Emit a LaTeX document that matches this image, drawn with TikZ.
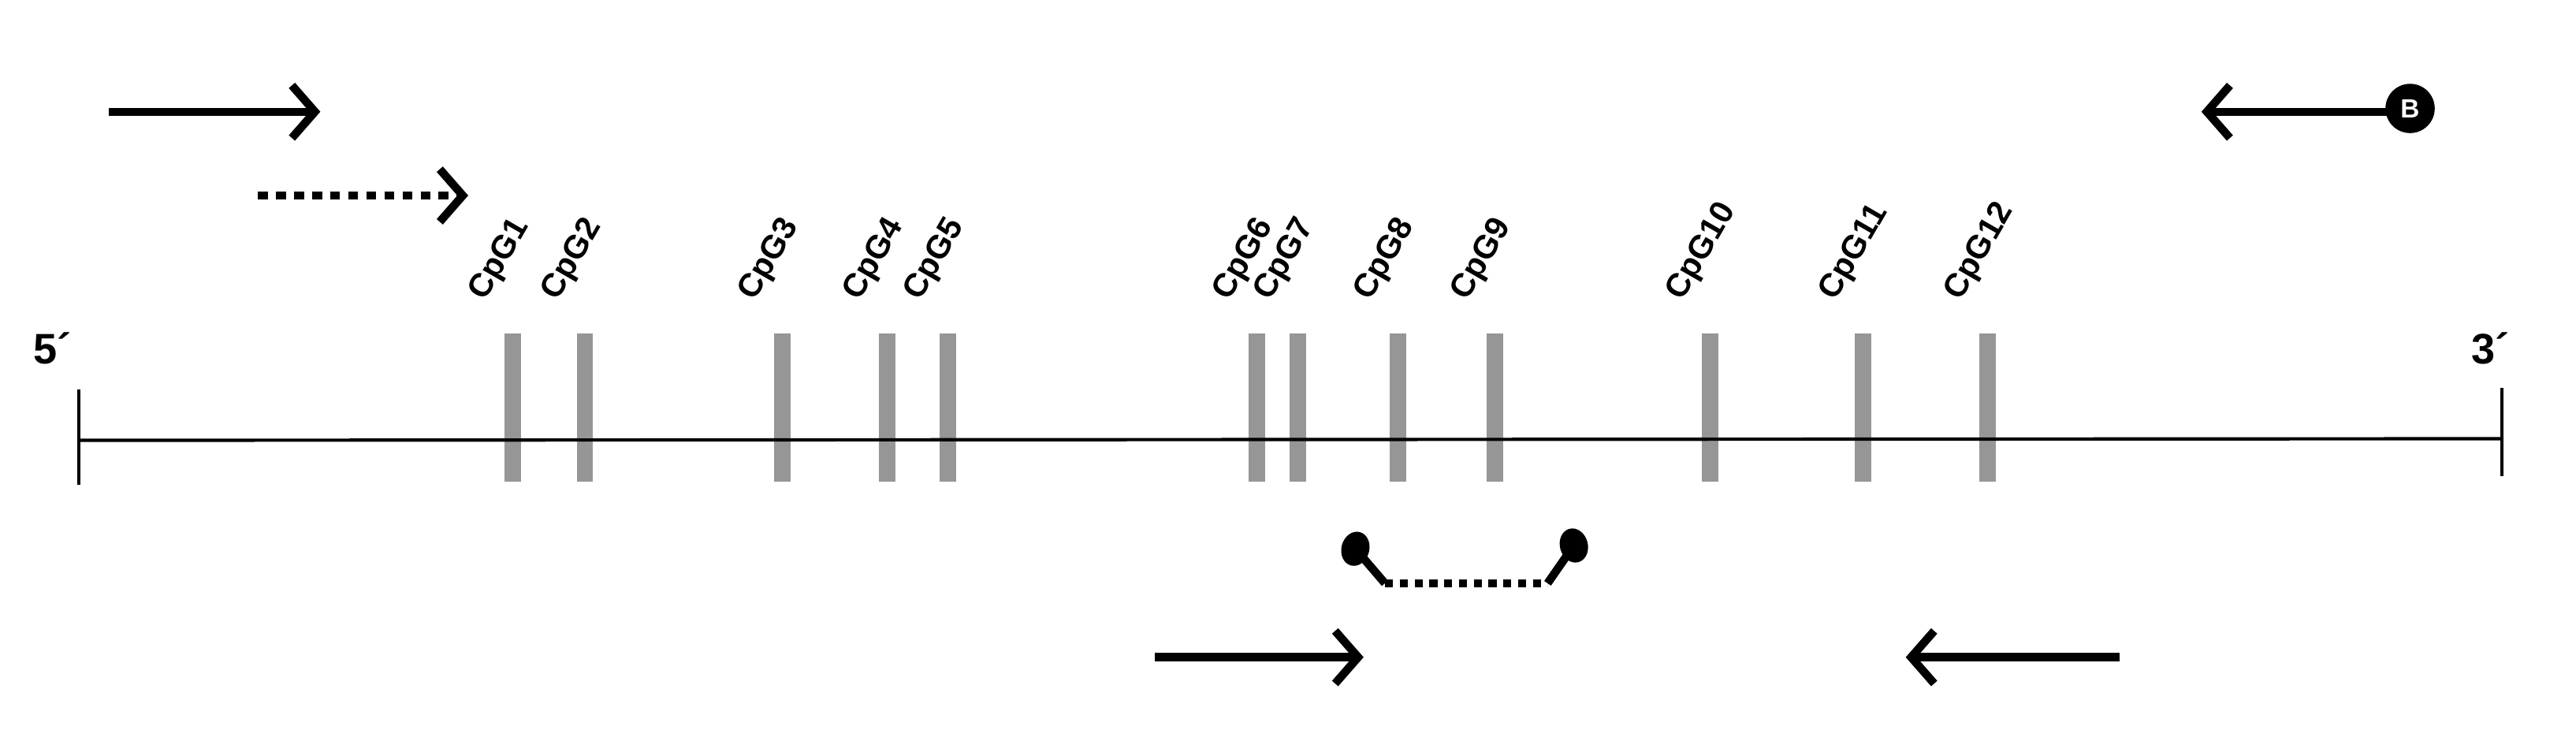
\documentclass[tikz,border=0pt]{standalone}
\usepackage{fontspec}
\setmainfont{Liberation Sans}
\usetikzlibrary{arrows.meta,shapes.geometric}
\definecolor{bargray}{RGB}{150,150,150}
\tikzset{
  cpgbar/.style={fill=bargray,draw=none},
  cpglab/.style={rotate=60,anchor=south west,inner sep=0pt,font=\fontsize{20}{20}\selectfont\bfseries},
  primer/.style={line width=5pt,-{Straight Barb[length=14pt,width=32pt,line width=5pt]}},
  endlab/.style={font=\fontsize{26}{26}\selectfont\bfseries,inner sep=0pt},
  ball/.style={ellipse,fill=black,minimum width=17pt,minimum height=21pt,inner sep=0pt}
}
\begin{document}
\begin{tikzpicture}[x=1pt,y=-1pt]
\useasboundingbox (0,0) rectangle (1568,444);
% bars
\foreach \n/\x in {1/312,2/356,3/476,4/540,5/577,6/765,7/790,8/851,9/910,10/1041,11/1134,12/1210}{
  \fill[cpgbar] (\x-5,203) rectangle (\x+5,293);
  \node[cpglab] (c\n) at (\x-13,186) {CpG\n};
}
% main line
\coordinate (L) at (48,268); \coordinate (R) at (1523,267);
\draw[line width=2pt] (L) -- (R);
\draw[line width=2pt] (48,237) -- (48,295);
\draw[line width=2pt] (1523,236) -- (1523,290);
\node[endlab] (five) at (32,212) {5´};
\node[endlab] (three) at (1516,212) {3´};
% primers
\coordinate (a1) at (66,68); \coordinate (a2) at (195,68);
\draw[primer] (a1) -- (a2);
\coordinate (b1) at (157,119); \coordinate (b2) at (285,119);
\draw[primer,dash pattern=on 6pt off 5pt] (b1) -- (b2);
\coordinate (c2) at (1340,68);
\draw[primer] (1465,68) -- (c2);
\node[circle,fill=black,minimum size=30pt,inner sep=0pt,text=white,font=\fontsize{16}{16}\selectfont\bfseries] (B) at (1467,66) {B};
\coordinate (d1) at (703,400); \coordinate (d2) at (830,400);
\draw[primer] (d1) -- (d2);
\coordinate (e1) at (1290,400); \coordinate (e2) at (1160,400);
\draw[primer] (e1) -- (e2);
% probe
\node[ball,rotate=-15] (p1) at (825,334) {};
\node[ball,rotate=15] (p2) at (958,332) {};
\coordinate (q1) at (843,355); \coordinate (q2) at (942,355);
\draw[line width=5pt] (p1.center) -- (q1);
\draw[line width=5pt] (p2.center) -- (q2);
\draw[line width=5pt,dash pattern=on 5pt off 4pt] (q1) -- (q2);
\end{tikzpicture}
\end{document}
